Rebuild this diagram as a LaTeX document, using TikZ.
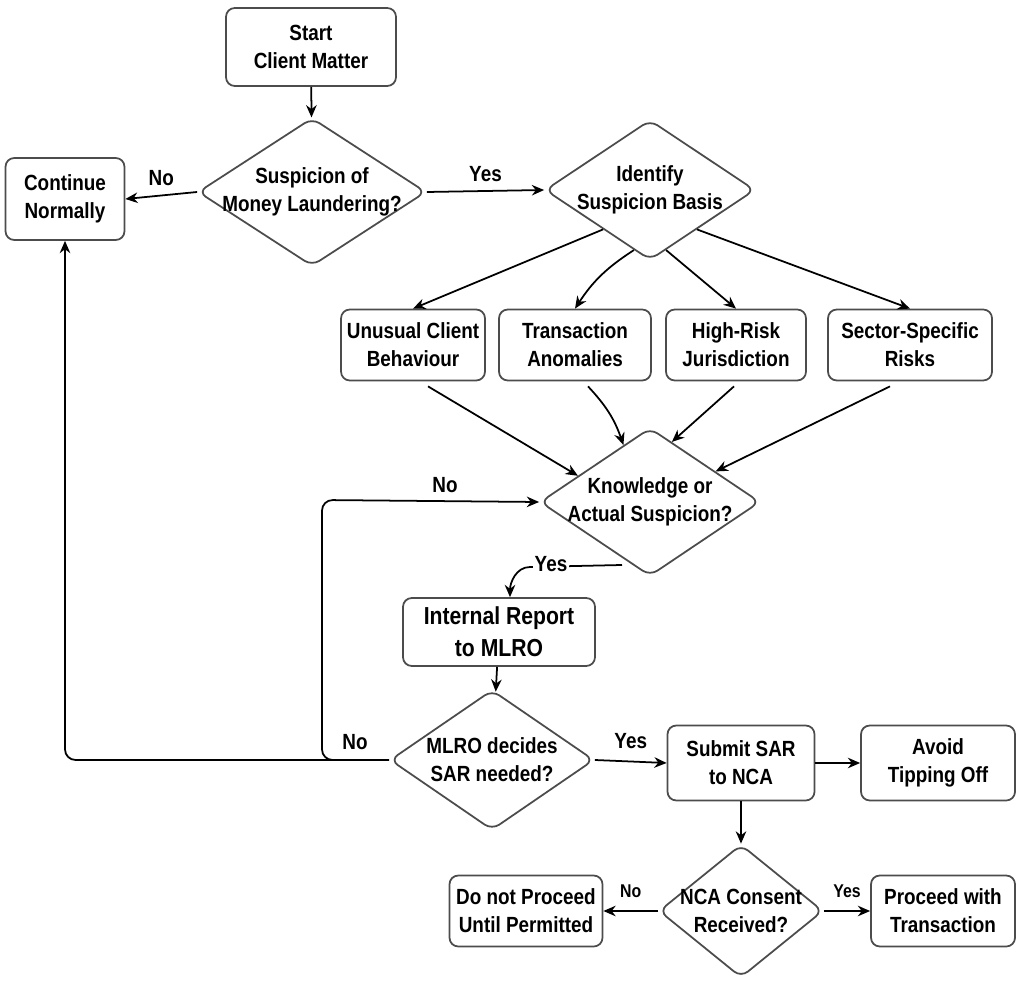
\documentclass[tikz,border=0pt]{standalone}
\usepackage{fontspec}
\setmainfont{Liberation Sans}[FakeStretch=0.86]
\usetikzlibrary{shapes.geometric,arrows.meta}
\tikzset{
  box/.style={draw=black!70,line width=1pt,rounded corners=5pt,align=center,font=\fontsize{12.5}{16}\selectfont\bfseries,fill=white},
  decision/.style={draw=black!70,line width=1pt,diamond,rounded corners=5pt,inner sep=0pt,fill=white},
  dtext/.style={align=center,font=\fontsize{12.5}{16}\selectfont\bfseries,inner sep=0pt},
  arr/.style={-{Stealth[length=7pt,width=6pt]},line width=1pt,black},
  lbl/.style={font=\fontsize{12.5}{15}\selectfont\bfseries,fill=white,inner sep=1pt}
}
\begin{document}
\begin{tikzpicture}[x=0.02cm,y=-0.02cm]
    \useasboundingbox (0,0) rectangle (1024,996);
    % nodes
    \node [box,minimum width=170*0.02cm,minimum height=78*0.02cm] (start) at (311,47) {Start\\Client Matter};
    \node [decision,minimum width=228*0.02cm,minimum height=148*0.02cm] (susp) at (312,192) {};
    \node [dtext] (susp-t) at (susp) {Suspicion of\\Money Laundering?};
    \node [box,minimum width=119*0.02cm,minimum height=82*0.02cm] (cont) at (65,199) {Continue\\Normally};
    \node [decision,minimum width=210*0.02cm,minimum height=140*0.02cm] (ident) at (650,190) {};
    \node [dtext] (ident-t) at (ident) {Identify\\Suspicion Basis};
    \node [box,minimum width=141*0.02cm,minimum height=71*0.02cm] (unusual) at (413,345) {Unusual Client\\Behaviour};
    \node [box,minimum width=152*0.02cm,minimum height=71*0.02cm] (trans) at (575,345) {Transaction\\Anomalies};
    \node [box,minimum width=140*0.02cm,minimum height=71*0.02cm] (risk) at (736,345) {High-Risk\\Jurisdiction};
    \node [box,minimum width=164*0.02cm,minimum height=71*0.02cm] (sector) at (910,345) {Sector-Specific\\Risks};
    \node [decision,minimum width=220*0.02cm,minimum height=148*0.02cm] (know) at (650,502) {};
    \node [dtext] (know-t) at (know) {Knowledge or\\Actual Suspicion?};
    \node [box,minimum width=192*0.02cm,minimum height=68*0.02cm,font=\fontsize{14}{18}\selectfont\bfseries] (report) at (499,632) {Internal Report\\to MLRO};
    \node [decision,minimum width=204*0.02cm,minimum height=140*0.02cm] (mlro) at (492,760) {};
    \node [dtext] (mlro-t) at (mlro) {MLRO decides\\SAR needed?};
    \node [box,minimum width=147*0.02cm,minimum height=75*0.02cm] (sar) at (741,763) {Submit SAR\\to NCA};
    \node [box,minimum width=154*0.02cm,minimum height=75*0.02cm] (avoid) at (938,763) {Avoid\\Tipping Off};
    \node [decision,minimum width=164*0.02cm,minimum height=133*0.02cm] (nca) at (741,911) {};
    \node [dtext] (nca-t) at (nca) {NCA Consent\\Received?};
    \node [box,minimum width=153*0.02cm,minimum height=71*0.02cm] (wait) at (526,911) {Do not Proceed\\Until Permitted};
    \node [box,minimum width=144*0.02cm,minimum height=71*0.02cm] (proceed) at (943,911) {Proceed with\\Transaction};
    % connectors
    \draw [arr] (start) -- (susp);
    \draw [arr] (susp.west) -- (cont.east) node [lbl,midway,above=4pt] {No};
    \draw [arr] (susp.east) -- (ident.west) node [lbl,midway,above=4pt] {Yes};
    \draw [arr] (ident.220) -- (unusual.north);
    \draw [arr] (ident.255) to[bend right=12] (trans.north);
    \draw [arr] (ident.285) -- (risk.north);
    \draw [arr] (ident.320) -- (sector.north);
    \draw [arr] (unusual.south) ++(15,5) coordinate (u1) -- (know.160);
    \draw [arr] (trans.south) ++(13,5) coordinate (t1) to[bend left=12] (know.115);
    \draw [arr] (risk.south) ++(-2,5) coordinate (r1) -- (know.70);
    \draw [arr] (sector.south) ++(-20,5) coordinate (s1) -- (know.25);
    \coordinate (k1) at (622,565);
    \draw [arr] (k1) -- (530,567) to[out=180,in=90] (report.north -| 510,0);
    \node [lbl] (yes1) at (551,564) {Yes};
    \draw [arr] (report) -- (mlro);
    \draw [arr,rounded corners=6pt] (mlro.west) -- (65,760) -- (cont.south);
    \node [lbl] (no2) at (355,742) {No};
    \draw [arr,rounded corners=6pt] (330,760) -- (322,760) -- (322,500) -- (know.west);
    \node [lbl] (no3) at (445,485) {No};
    \draw [arr] (mlro.east) -- (sar.west) node [lbl,midway,above=6pt] {Yes};
    \draw [arr] (sar) -- (avoid);
    \draw [arr] (sar) -- (nca);
    \draw [arr] (nca.west) -- (wait.east) node [lbl,midway,above=6pt,font=\fontsize{10.5}{13}\selectfont\bfseries] {No};
    \draw [arr] (nca.east) -- (proceed.west) node [lbl,midway,above=6pt,font=\fontsize{10.5}{13}\selectfont\bfseries] {Yes};
\end{tikzpicture}
\end{document}
